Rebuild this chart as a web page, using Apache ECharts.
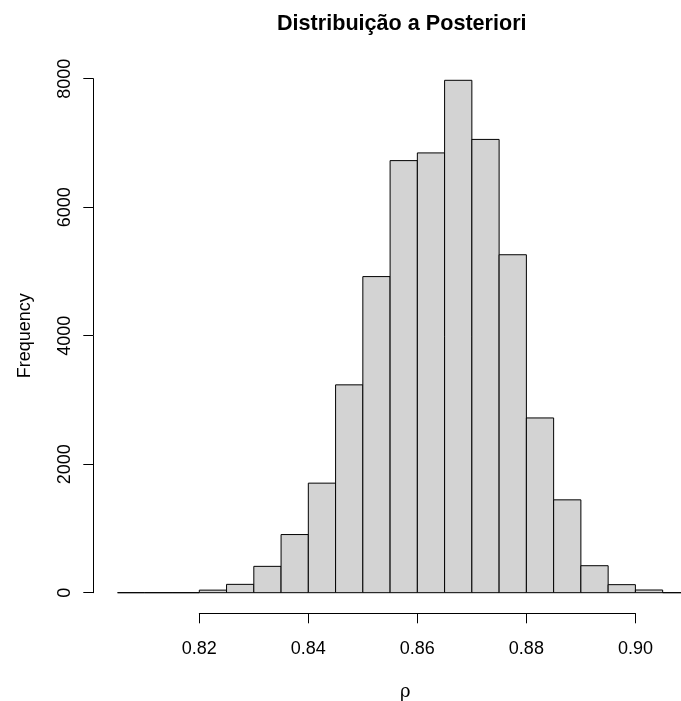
<!DOCTYPE html>
<html>
<head>
<meta charset="utf-8">
<script src="https://cdn.jsdelivr.net/npm/echarts@6/dist/echarts.min.js"></script>
<style>
  html, body { margin: 0; padding: 0; background: #fff; }
  #chart { width: 681px; height: 701px; }
</style>
</head>
<body>
<div id="chart"></div>
<script>
// 直方图分箱（左右边界）
var binLeft  = [0.805, 0.810, 0.815, 0.820, 0.825, 0.830, 0.835, 0.840, 0.845, 0.850, 0.855,
                0.860, 0.865, 0.870, 0.875, 0.880, 0.885, 0.890, 0.895, 0.900, 0.905];
var binRight = [0.810, 0.815, 0.820, 0.825, 0.830, 0.835, 0.840, 0.845, 0.850, 0.855, 0.860,
                0.865, 0.870, 0.875, 0.880, 0.885, 0.890, 0.895, 0.900, 0.905, 0.910];
// 每个分箱的频数
var counts   = [0, 0, 0, 40, 130, 410, 905, 1705, 3235, 4920, 6725,
                6845, 7975, 7055, 5260, 2720, 1445, 420, 125, 42, 0];
// 坐标轴刻度
var xTicks = [0.82, 0.84, 0.86, 0.88, 0.90];
var yTicks = [0, 2000, 4000, 6000, 8000];

var titleText = 'Distribuição a Posteriori';
var xName = 'ρ';
var yName = 'Frequency';

var font = '"Liberation Sans", Arial, Helvetica, sans-serif';

var histData = [];
for (var i = 0; i < counts.length; i++) {
    histData.push([binLeft[i], binRight[i], counts[i]]);
}

var chart = echarts.init(document.getElementById('chart'), null, {renderer: 'canvas'});

var option = {
    animation: false,
    backgroundColor: '#ffffff',
    title: {
        text: titleText,
        left: 277,
        top: 13,
        padding: 0,
        textStyle: {
            fontFamily: font,
            fontSize: 21.6,
            fontWeight: 'bold',
            color: '#000'
        }
    },
    grid: {
        left: 199.3,
        right: 45.6,
        top: 78.7,
        bottom: 108.3,
        containLabel: false,
        outerBoundsMode: 'none'
    },
    xAxis: {
        type: 'value',
        min: xTicks[0],
        max: xTicks[xTicks.length - 1],
        interval: 0.02,
        offset: 20.6,
        name: xName,
        nameLocation: 'middle',
        nameGap: 70,
        nameTextStyle: {
            fontFamily: '"DejaVu Serif", "Liberation Serif", serif',
            fontSize: 18,
            color: '#000',
            // 名称居中于整个绘图区而不是坐标轴
            padding: [0, 24, 0, 0]
        },
        axisLine: {show: true, onZero: false, lineStyle: {color: '#000', width: 1}},
        axisTick: {show: true, length: 10, lineStyle: {color: '#000', width: 1}},
        axisLabel: {
            margin: 27,
            fontFamily: font,
            fontSize: 18,
            color: '#000',
            formatter: function (v) { return v.toFixed(2); }
        },
        splitLine: {show: false}
    },
    yAxis: {
        type: 'value',
        min: yTicks[0],
        max: yTicks[yTicks.length - 1],
        interval: 2000,
        offset: 106,
        name: yName,
        nameLocation: 'middle',
        nameGap: 59,
        nameTextStyle: {
            fontFamily: font,
            fontSize: 18,
            color: '#000'
        },
        axisLine: {show: true, lineStyle: {color: '#000', width: 1}},
        axisTick: {show: true, length: 10, lineStyle: {color: '#000', width: 1}},
        axisLabel: {
            rotate: 90,
            margin: 19,
            fontFamily: font,
            fontSize: 18,
            color: '#000',
            formatter: function (v) { return String(v); }
        },
        splitLine: {show: false}
    },
    series: [{
        type: 'custom',
        clip: false,
        data: histData,
        encode: {x: [0, 1], y: 2},
        renderItem: function (params, api) {
            var p0 = api.coord([api.value(0), 0]);
            var p1 = api.coord([api.value(1), api.value(2)]);
            return {
                type: 'rect',
                shape: {
                    x: p0[0],
                    y: p1[1],
                    width: p1[0] - p0[0],
                    height: p0[1] - p1[1]
                },
                style: {
                    fill: '#d3d3d3',
                    stroke: '#000',
                    lineWidth: 1
                }
            };
        }
    }]
};

chart.setOption(option);
</script>
</body>
</html>
